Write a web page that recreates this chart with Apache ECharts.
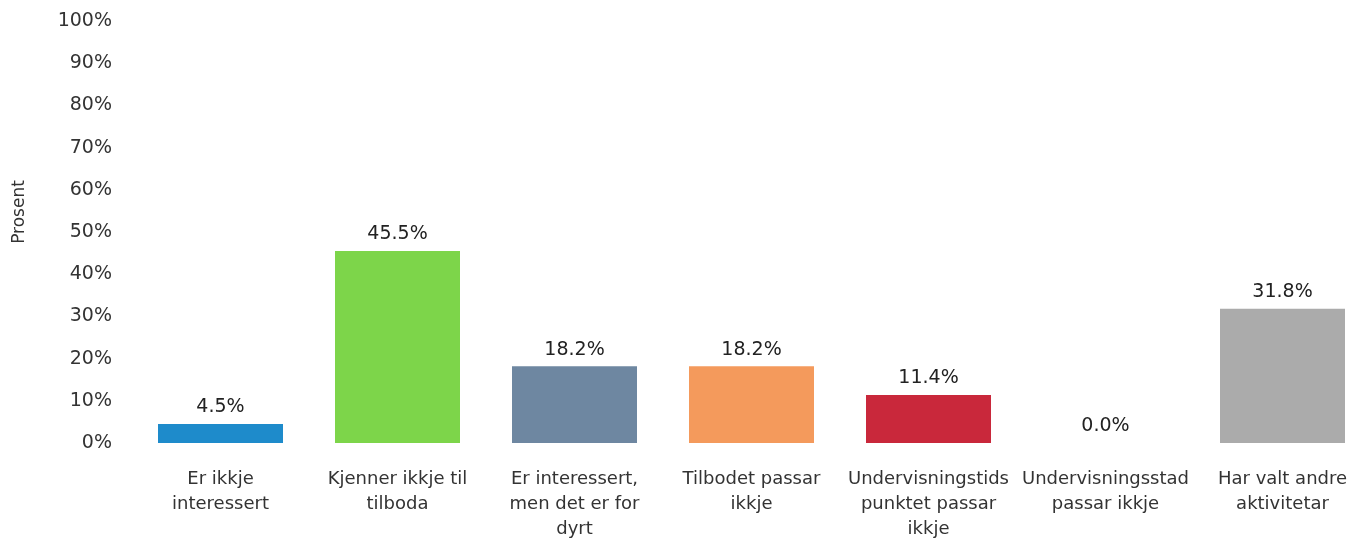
<!DOCTYPE html>
<html>
<head>
<meta charset="utf-8">
<script src="https://cdn.jsdelivr.net/npm/echarts@6/dist/echarts.min.js"></script>
<style>
    html, body { margin: 0; padding: 0; background: #fff; }
    #chart { width: 1350px; height: 545px; }
</style>
</head>
<body>
<div id="chart"></div>
<script>
// kategoriar (med linjeskift som i originalen)
var categories = [
    "Er ikkje\ninteressert",
    "Kjenner ikkje til\ntilboda",
    "Er interessert,\nmen det er for\ndyrt",
    "Tilbodet passar\nikkje",
    "Undervisningstids\npunktet passar\nikkje",
    "Undervisningsstad\npassar ikkje",
    "Har valt andre\naktivitetar"
];
var values = [4.5, 45.5, 18.2, 18.2, 11.4, 0.0, 31.8];//prosent
var barColors = ["#1e8bcb", "#7dd54a", "#6e87a1", "#f49a5c", "#c9283b", "#aaaaaa", "#ababab"];
var yTicks = { min: 0, max: 100, interval: 10 };

var myChart = echarts.init(document.getElementById("chart"));
var option = {
    backgroundColor: "#fff",
    animation: false,
    grid: {
        left: 132,
        top: 21,
        right: -21,
        bottom: 102,
        outerBoundsMode: "none"
    },
    xAxis: {
        type: "category",
        data: categories,
        axisLine: { show: false },
        axisTick: { show: false },
        axisLabel: {
            interval: 0,
            margin: 24,
            color: "#333",
            fontFamily: "DejaVu Sans",
            fontSize: 18,
            lineHeight: 25
        }
    },
    yAxis: {
        type: "value",
        min: yTicks.min,
        max: yTicks.max,
        interval: yTicks.interval,
        name: "Prosent",
        nameLocation: "middle",
        nameGap: 104,
        nameRotate: 90,
        nameTextStyle: {
            color: "#333",
            fontFamily: "DejaVu Sans",
            fontSize: 17,
            padding: [0, 0, 0, 40]
        },
        axisLine: { show: false },
        axisTick: { show: false },
        splitLine: { show: false },
        axisLabel: {
            formatter: "{value}%",
            margin: 20,
            color: "#333",
            fontFamily: "DejaVu Sans",
            fontSize: 19
        }
    },
    series: [{
        type: "bar",
        barWidth: 125,
        data: values.map(function (v, i) {
            return { value: v, itemStyle: { color: barColors[i] } };
        }),
        label: {
            show: true,
            position: "top",
            distance: 7,
            color: "#222",
            fontFamily: "DejaVu Sans",
            fontSize: 19,
            formatter: function (p) {
                return p.value.toFixed(1) + "%";
            }
        }
    }]
};
myChart.setOption(option);
</script>
</body>
</html>
